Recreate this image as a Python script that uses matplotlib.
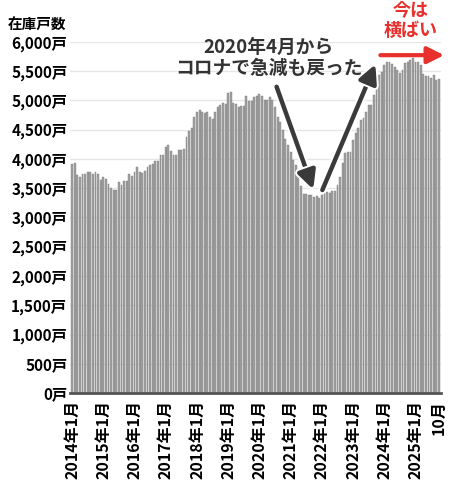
import matplotlib
matplotlib.use("Agg")
import matplotlib.pyplot as plt
import matplotlib.patheffects as pe
import numpy as np

plt.rcParams['font.family'] = ['Noto Sans CJK JP', 'DejaVu Sans']

# Monthly inventory (戸), 2014-01 .. 2025-10
y2014 = [3910, 3940, 3730, 3690, 3750, 3750, 3770, 3770, 3750, 3780, 3750, 3640]
y2015 = [3700, 3660, 3570, 3500, 3470, 3470, 3610, 3560, 3630, 3630, 3740, 3710]
y2016 = [3780, 3870, 3780, 3760, 3800, 3860, 3890, 3910, 3960, 3960, 4070, 4070]
y2017 = [4210, 4240, 4140, 4070, 4070, 4160, 4150, 4170, 4370, 4480, 4530, 4720]
y2018 = [4810, 4840, 4810, 4780, 4810, 4720, 4680, 4810, 4890, 4920, 4950, 4940]
y2019 = [5130, 5150, 4960, 4940, 4890, 4900, 4900, 5080, 4990, 4990, 5060, 5070]
y2020 = [5110, 5080, 5000, 5010, 5060, 5000, 4890, 4720, 4640, 4500, 4350, 4240]
y2021 = [4120, 3980, 3900, 3730, 3530, 3410, 3410, 3390, 3380, 3350, 3360, 3340]
y2022 = [3380, 3420, 3440, 3420, 3460, 3450, 3555, 3697, 3925, 4096, 4124, 4124]
y2023 = [4324, 4438, 4523, 4666, 4694, 4808, 4922, 4922, 5093, 5235, 5435, 5492]
y2024 = [5605, 5662, 5662, 5617, 5577, 5520, 5463, 5520, 5634, 5662, 5691, 5720]
y2025 = [5662, 5662, 5605, 5452, 5418, 5418, 5378, 5435, 5350, 5372]

values = y2014 + y2015 + y2016 + y2017 + y2018 + y2019 + y2020 + y2021 + y2022 + y2023 + y2024 + y2025

xtick_labels = [f"{y}年1月" for y in range(2014, 2026)] + ["10月"]
ytick_values = list(range(0, 6001, 500))
ytick_labels = [f"{v:,}戸" for v in ytick_values]

fig = plt.figure(figsize=(4.5, 4.88), dpi=100)
ax = fig.add_axes([70/450, 1-393/488, 371/450, 351/488])

x = np.arange(len(values))
ax.bar(x, values, width=0.72, color='#a0a0a0', edgecolor='#808080', linewidth=0.3, zorder=2)

ax.set_xlim(-0.8, len(values) - 0.2)
ax.set_ylim(0, 6000)
ax.set_yticks(ytick_values)
ax.set_yticklabels(ytick_labels, fontsize=11, fontweight='bold')
ax.grid(axis='y', color='#e6e6e6', linewidth=1, zorder=0)
ax.set_axisbelow(True)

xt = [i * 12 for i in range(12)] + [len(values) - 1]
ax.set_xticks(xt)
ax.set_xticklabels(xtick_labels, rotation=90, fontsize=11.5, fontweight='bold')
ax.tick_params(axis='both', length=0, pad=2)
ax.tick_params(axis='x', pad=5)

for s in ['left', 'right', 'top']:
    ax.spines[s].set_visible(False)
ax.spines['bottom'].set_color('#555555')
ax.spines['bottom'].set_linewidth(2)

fig.text(8/450, 1-25/488, "在庫戸数", fontsize=10.5, fontweight='bold', va='center', ha='left')

# Annotations
ax.text(75.5, 5730, "2020年4月から\nコロナで急減も戻った", ha='center', va='center',
        fontsize=13.5, fontweight='bold', color='#333333', linespacing=1.1, zorder=5)

arrow_style = dict(arrowstyle='-|>,head_length=1.1,head_width=0.55', color='#3a3a3a', lw=3.2,
                   shrinkA=0, shrinkB=0,
                   path_effects=[pe.Stroke(linewidth=6, foreground='white'), pe.Normal()])
ax.annotate("", xy=(92.7, 3480), xytext=(78.6, 5235), arrowprops=arrow_style, zorder=6)
ax.annotate("", xy=(116.6, 5620), xytext=(96.2, 3470), arrowprops=arrow_style, zorder=6)

red_style = dict(arrowstyle='-|>,head_length=1.0,head_width=0.5', color='#e8302c', lw=3,
                 shrinkA=0, shrinkB=0)
ax.annotate("", xy=(143.0, 5775), xytext=(118.5, 5775), arrowprops=red_style,
            annotation_clip=False, zorder=6)
fig.text(411/450, 1-20/488, "今は\n横ばい", ha='center', va='center', fontsize=13,
         fontweight='bold', color='#e8302c', linespacing=1.1)

fig.savefig("out.png", dpi=100)
